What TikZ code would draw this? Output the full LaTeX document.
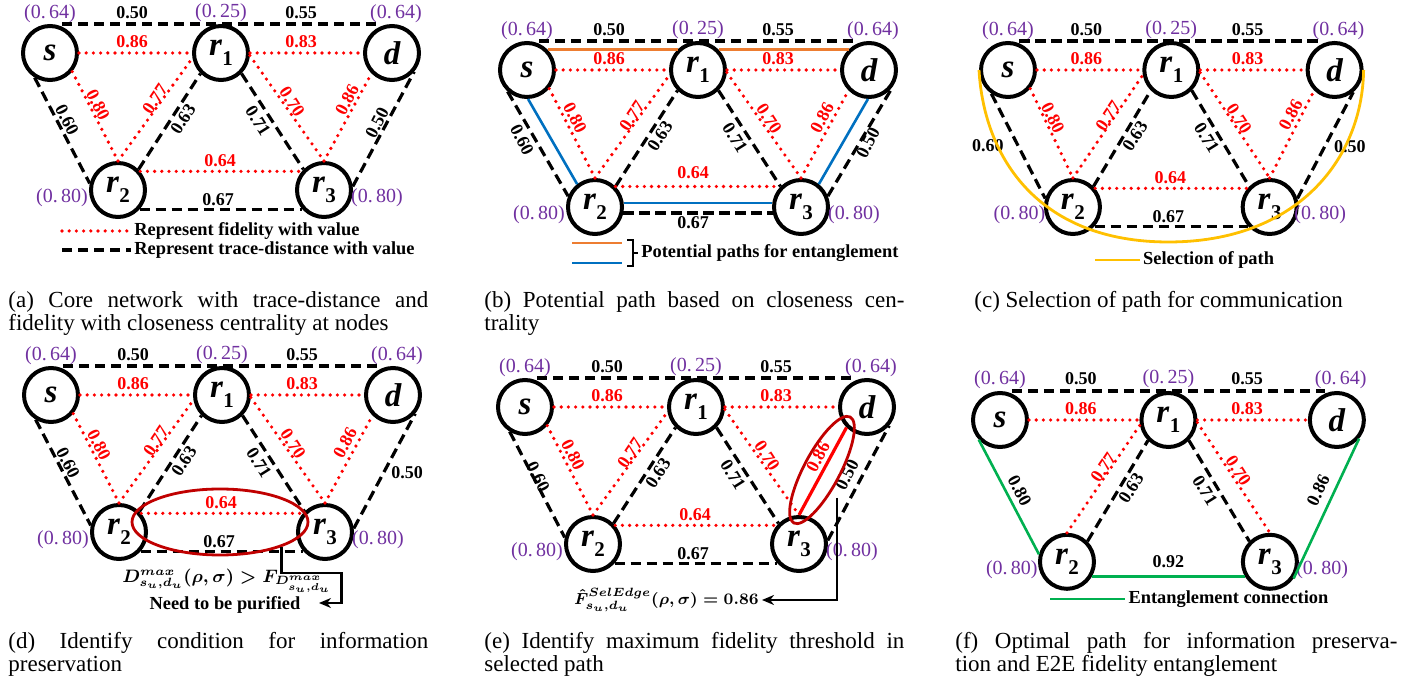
\documentclass[tikz,border=0pt]{standalone}
\usepackage{fontspec}
\setmainfont{Liberation Serif}
\usetikzlibrary{calc,arrows.meta,shapes.geometric}

\definecolor{ccpurple}{RGB}{112,48,160}
\definecolor{fidred}{RGB}{255,0,0}
\definecolor{pathorange}{RGB}{237,125,49}
\definecolor{pathblue}{RGB}{0,112,192}
\definecolor{pathgold}{RGB}{255,192,0}
\definecolor{entgreen}{RGB}{0,176,80}
\definecolor{markred}{RGB}{192,0,0}

% relay label r_i with a large upright subscript
\newcommand\relay[1]{r\kern0.3pt\raisebox{-5pt}{\fontsize{10.5}{10.5}\selectfont\upshape #1}}

\tikzset{
  qn/.style={circle, draw, line width=2pt, minimum size=27pt, inner sep=0pt,
    font=\fontsize{16.5}{16.5}\selectfont\bfseries\itshape},
  cc/.style={text=ccpurple, inner sep=0pt, font=\fontsize{10}{10}\selectfont},
  td/.style={line width=1.6pt, dash pattern=on 5.2pt off 2.8pt},
  fid/.style={draw=fidred, line width=1.8pt, line cap=round, dash pattern=on 0pt off 3.6pt},
  fidsolid/.style={draw=fidred, line width=1.6pt},
  vl/.style={inner sep=0pt, font=\fontsize{9}{10}\selectfont\bfseries},
  fl/.style={vl, text=fidred},
  lg/.style={anchor=west, inner sep=1.5pt, font=\fontsize{9.2}{10}\selectfont\bfseries},
  capt/.style={anchor=north west, inner sep=0pt, align=justify,
    font=\fontsize{11.5}{11.5}\selectfont},
  opath/.style={draw=pathorange, line width=1.3pt},
  bpath/.style={draw=pathblue, line width=1.3pt},
  gpath/.style={draw=pathgold, line width=1.4pt},
  epath/.style={draw=entgreen, line width=1.3pt},
  ringmark/.style={ellipse, draw=markred, line width=1.4pt, inner sep=0pt},
  pointer/.style={line width=1.4pt, -{Stealth[length=6pt,width=5pt]}},
  formula/.style={inner sep=0pt, font=\boldmath\fontsize{8.6}{9}\selectfont},
  note/.style={inner sep=0pt, font=\fontsize{9.2}{10}\selectfont\bfseries},
}

% the five quantum nodes with their closeness centrality
\newcommand\qnodes[1]{%
  \node[qn] (#1-s)  at (0,0)     {s};
  \node[qn] (#1-r1) at (171,0)   {\relay{1}};
  \node[qn] (#1-d)  at (342,0)   {d};
  \node[qn] (#1-r2) at (68,137)  {\relay{2}};
  \node[qn] (#1-r3) at (274,137) {\relay{3}};
  \node[cc] (#1-cs)  at (0,-39)   {(0.\,64)};
  \node[cc] (#1-cr1) at (171,-40) {(0.\,25)};
  \node[cc] (#1-cd)  at (346,-39) {(0.\,64)};
  \node[cc] (#1-cr2) at (12,145)  {(0.\,80)};
  \node[cc] (#1-cr3) at (327,145) {(0.\,80)};
}
% upper row: trace distance over the top, fidelity between neighbours
\newcommand\topedges[1]{%
  \draw[td] ($(#1-s.north)+(12,0)$) -- ($(#1-d.north)+(-12,0)$);
  \draw[fid] (#1-s.east) -- (#1-r1.west);
  \draw[fid] (#1-r1.east) -- (#1-d.west);
  \node[vl] (#1-t1) at (82,-40) {0.50};
  \node[vl] (#1-t2) at (251,-40) {0.55};
  \node[fl] (#1-t3) at (82,-11) {0.86};
  \node[fl] (#1-t4) at (251,-11) {0.83};
}
% links between r1 and the lower relays
\newcommand\midedges[1]{%
  \draw[fid] (#1-r2.north) -- (#1-r1.190);
  \draw[td] (#1-r2.45) -- (#1-r1.-135);
  \draw[td] (#1-r1.-45) -- (#1-r3.135);
  \draw[fid] (#1-r1.-5) -- (#1-r3.north);
  \node[fl, rotate=56]  (#1-m1) at (105,46) {0.77};
  \node[vl, rotate=57]  (#1-m2) at (133,66) {0.63};
  \node[vl, rotate=-58] (#1-m3) at (208,68) {0.71};
  \node[fl, rotate=-57] (#1-m4) at (242,49) {0.70};
}
% lower row r2 -- r3
\newcommand\botedges[1]{%
  \draw[fid] (#1-r2.40) -- (#1-r3.140);
  \draw[td] (#1-r2.-42) -- (#1-r3.-138);
  \node[fl] (#1-b1) at (170,108) {0.64};
  \node[vl] (#1-b2) at (168,147) {0.67};
}

\begin{document}
\begin{tikzpicture}[x=0.5pt, y=-0.5pt]
\useasboundingbox (0,0) rectangle (1403,683);

% ---------------- (a) core network
\begin{scope}[shift={(50,53)}]
  \qnodes{a}
  \topedges{a}
  \midedges{a}
  \draw[td] (a-s.-122) -- (a-r2.167);
  \draw[fid] (a-s.-40) -- (a-r2.north);
  \draw[fid] (a-r3.north) -- (a-d.-135);
  \draw[td] (a-r3.7) -- (a-d.-40);
  \node[vl, rotate=-63] (a-v1) at (17,67) {0.60};
  \node[fl, rotate=-63] (a-v2) at (48,52) {0.80};
  \node[fl, rotate=62]  (a-v3) at (297,47) {0.86};
  \node[vl, rotate=63]  (a-v4) at (327,70) {0.50};
  \botedges{a}
  \node[lg] (a-lg1) at (81,178) {Represent fidelity with value};
  \node[lg] (a-lg2) at (81,197) {Represent trace-distance with value};
  \coordinate (a-k1) at (12,178);
  \coordinate (a-k2) at (12,197);
  \draw[fid] (a-k1) -- (a-lg1.west);
  \draw[td] (a-k2) -- (a-lg2.west);
\end{scope}

% ---------------- (b) potential paths
\begin{scope}[shift={(527,70)}]
  \qnodes{b}
  \topedges{b}
  \draw[opath] (b-s.45) -- (b-r1.135);
  \draw[opath] (b-r1.45) -- (b-d.135);
  \midedges{b}
  \draw[td] (b-s.-132) -- (b-r2.158);
  \draw[bpath] (b-s.-88) -- (b-r2.128);
  \draw[fid] (b-s.-40) -- (b-r2.north);
  \draw[fid] (b-r3.north) -- (b-d.-135);
  \draw[bpath] (b-r3.52) -- (b-d.-92);
  \draw[td] (b-r3.22) -- (b-d.-34);
  \node[vl, rotate=-63] (b-v1) at (-5,70) {0.60};
  \node[fl, rotate=-63] (b-v2) at (48,48) {0.80};
  \node[fl, rotate=62]  (b-v3) at (295,48) {0.86};
  \node[vl, rotate=63]  (b-v4) at (341,73) {0.50};
  \draw[fid] (b-r2.45) -- (b-r3.135);
  \draw[bpath] (b-r2.8) -- (b-r3.172);
  \draw[td] (b-r2.-12) -- (b-r3.-168);
  \node[fl] (b-b1) at (166,103) {0.64};
  \node[vl] (b-b2) at (166,153) {0.67};
  \coordinate (b-k1) at (45,173);
  \coordinate (b-k1e) at (95,173);
  \coordinate (b-k2) at (45,193);
  \coordinate (b-k2e) at (95,193);
  \draw[opath] (b-k1) -- (b-k1e);
  \draw[bpath] (b-k2) -- (b-k2e);
  \node[lg] (b-lg) at (111,183) {Potential paths for entanglement};
  \draw[line width=1.4pt] (100,170) -- (106,170) -- (106,196) -- (100,196);
  \coordinate (b-br) at (106,183);
  \draw[line width=1.4pt] (b-br) -- (b-lg.west);
\end{scope}

% ---------------- (c) selected path
\begin{scope}[shift={(1008,70)}, xscale=0.955]
  \qnodes{c}
  \topedges{c}
  \midedges{c}
  \draw[td] (c-s.-125) -- (c-r2.163);
  \draw[fid] (c-s.-40) -- (c-r2.north);
  \draw[fid] (c-r3.north) -- (c-d.-135);
  \draw[td] (c-r3.17) -- (c-d.-50);
  \node[vl] (c-v1) at (-21,76) {0.60};
  \node[fl, rotate=-63] (c-v2) at (47,48) {0.80};
  \node[fl, rotate=62]  (c-v3) at (296,45) {0.86};
  \node[vl] (c-v4) at (358,77) {0.50};
  \botedges{c}
  \coordinate (c-low) at (168,172);
  \draw[gpath] (c-s.west) .. controls (-25,90) and (34,172) .. (c-low)
                          .. controls (302,172) and (371,90) .. (c-d.east);
  \coordinate (c-k) at (91,190);
  \node[lg] (c-lg) at (138,190) {Selection of path};
  \draw[gpath] (c-k) -- (c-lg.west);
\end{scope}

% ---------------- (d) purification condition
\begin{scope}[shift={(51,395)}]
  \qnodes{d}
  \topedges{d}
  \midedges{d}
  \draw[td] (d-s.-122) -- (d-r2.167);
  \draw[fid] (d-s.-40) -- (d-r2.north);
  \draw[fid] (d-r3.north) -- (d-d.-135);
  \draw[td] (d-r3.7) -- (d-d.-40);
  \node[vl, rotate=-63] (d-v1) at (17,68) {0.60};
  \node[fl, rotate=-63] (d-v2) at (48,50) {0.80};
  \node[fl, rotate=62]  (d-v3) at (294,48) {0.86};
  \node[vl] (d-v4) at (356,78) {0.50};
  \botedges{d}
  \node[ringmark, minimum width=88pt, minimum height=33pt] (d-ring) at (169,127) {};
  \node[formula] (d-cond) at (176,186)
    {$D^{max}_{s_u,d_u}(\rho,\sigma) > F_{D^{max}_{s_u,d_u}}$};
  \node[note] (d-need) at (174,210) {Need to be purified};
  \coordinate (d-tip) at (268,208);
  \draw[pointer] (d-ring.-22) |- ++(60,26) |- (d-tip);
\end{scope}

% ---------------- (e) maximum fidelity on the selected path
\begin{scope}[shift={(525,407)}]
  \qnodes{e}
  \topedges{e}
  \midedges{e}
  \draw[td] (e-s.-122) -- (e-r2.167);
  \draw[fid] (e-s.-40) -- (e-r2.north);
  \draw[fidsolid] (e-r3.north) -- (e-d.-135);
  \draw[td] (e-r3.7) -- (e-d.-40);
  \node[vl, rotate=-63] (e-v1) at (13,70) {0.60};
  \node[fl, rotate=-63] (e-v2) at (48,48) {0.80};
  \node[fl, rotate=62]  (e-v3) at (293,50) {0.86};
  \node[vl, rotate=63]  (e-v4) at (322,68) {0.50};
  \botedges{e}
  \node[ringmark, rotate=62, minimum width=60pt, minimum height=18pt] (e-ring) at (297,63) {};
  \node[formula, anchor=east, inner sep=1.5pt, font=\boldmath\fontsize{8}{9}\selectfont] (e-thr) at (237,193)
    {$\hat{F}^{SelEdge}_{s_u,d_u}(\rho,\sigma) = 0.86$};
  \coordinate (e-from) at (312,91);
  \draw[pointer] (e-from) |- (e-thr.east);
\end{scope}

% ---------------- (f) optimal entanglement path
\begin{scope}[shift={(1000,420)}, xscale=0.985, yscale=1.035]
  \qnodes{f}
  \topedges{f}
  \midedges{f}
  \draw[epath] (f-s.-137) -- (f-r2.165);
  \draw[epath] (f-r2.-30) -- (f-r3.-150);
  \draw[epath] (f-r3.-35) -- (f-d.-40);
  \node[vl, rotate=-62] (f-v1) at (20,68) {0.80};
  \node[vl] (f-v2) at (171,137) {0.92};
  \node[vl, rotate=64] (f-v3) at (323,68) {0.86};
  \coordinate (f-k) at (51,173);
  \node[lg] (f-lg) at (127,173) {Entanglement connection};
  \draw[epath] (f-k) -- (f-lg.west);
\end{scope}

% ---------------- captions
\node[capt, text width=210pt] (cap-a) at (8,291)
  {(a) Core network with trace-distance and\linebreak fidelity with closeness centrality at nodes};
\node[capt, text width=210pt] (cap-b) at (484,291)
  {(b) Potential path based on closeness cen-\linebreak trality};
\node[capt, text width=210pt] (cap-c) at (974,291)
  {(c) Selection of path for communication};
\node[capt, text width=210pt] (cap-d) at (8,632)
  {(d) Identify condition for information\linebreak preservation};
\node[capt, text width=210pt] (cap-e) at (484,632)
  {(e) Identify maximum fidelity threshold in\linebreak selected path};
\node[capt, text width=221pt] (cap-f) at (955,632)
  {(f) Optimal path for information preserva-\linebreak tion and E2E fidelity entanglement};
\end{tikzpicture}
\end{document}
